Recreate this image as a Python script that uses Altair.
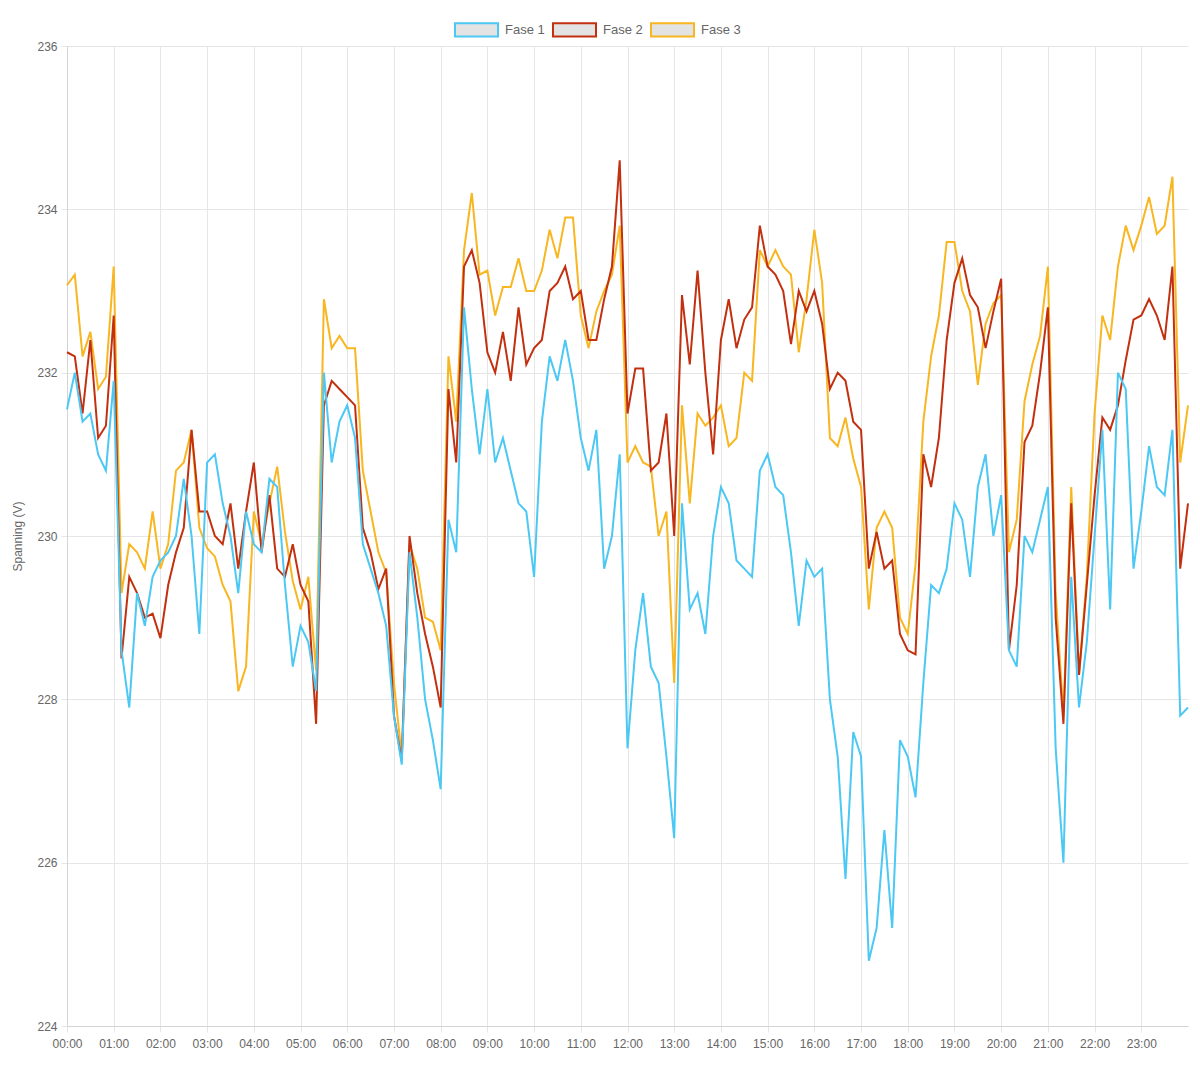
import altair as alt
import pandas as pd

series_names = ["Fase 1", "Fase 2", "Fase 3"]
series_colors = ["#4cc8f4", "#c2300f", "#f8b620"]
hour_ticks = list(range(24))
y_ticks = [224, 226, 228, 230, 232, 234, 236]
times = [i / 6 for i in range(145)]  # one reading every 10 minutes, 00:00 .. 24:00

fase1 = [
    231.55, 232.0, 231.4, 231.5, 231.0, 230.8,
    231.9, 228.6, 227.9, 229.3, 228.9, 229.5,
    229.7, 229.8, 230.0, 230.7, 230.0, 228.8,
    230.9, 231.0, 230.4, 230.0, 229.3, 230.3,
    229.9, 229.8, 230.7, 230.6, 229.4, 228.4,
    228.9, 228.7, 228.1, 232.0, 230.9, 231.4,
    231.6, 231.2, 229.9, 229.6, 229.3, 228.9,
    227.8, 227.2, 229.8, 229.0, 228.0, 227.5,
    226.9, 230.2, 229.8, 232.8, 231.8, 231.0,
    231.8, 230.9, 231.2, 230.8, 230.4, 230.3,
    229.5, 231.4, 232.2, 231.9, 232.4, 231.9,
    231.2, 230.8, 231.3, 229.6, 230.0, 231.0,
    227.4, 228.6, 229.3, 228.4, 228.2, 227.3,
    226.3, 230.4, 229.1, 229.3, 228.8, 230.0,
    230.6, 230.4, 229.7, 229.6, 229.5, 230.8,
    231.0, 230.6, 230.5, 229.8, 228.9, 229.7,
    229.5, 229.6, 228.0, 227.3, 225.8, 227.6,
    227.3, 224.8, 225.2, 226.4, 225.2, 227.5,
    227.3, 226.8, 228.2, 229.4, 229.3, 229.6,
    230.4, 230.2, 229.5, 230.6, 231.0, 230.0,
    230.5, 228.6, 228.4, 230.0, 229.8, 230.2,
    230.6, 227.4, 226.0, 229.5, 227.9, 228.7,
    230.0, 231.3, 229.1, 232.0, 231.8, 229.6,
    230.3, 231.1, 230.6, 230.5, 231.3, 227.8,
    227.9,
]

fase2 = [
    232.25, 232.2, 231.5, 232.4, 231.2, 231.35,
    232.7, 228.5, 229.5, 229.3, 229.0, 229.05,
    228.75, 229.4, 229.8, 230.1, 231.3, 230.3,
    230.3, 230.0, 229.9, 230.4, 229.6, 230.3,
    230.9, 229.8, 230.5, 229.6, 229.5, 229.9,
    229.4, 229.2, 227.7, 231.6, 231.9, 231.8,
    231.7, 231.6, 230.1, 229.8, 229.35, 229.6,
    227.8, 227.25, 230.0, 229.3, 228.8, 228.4,
    227.9, 231.8, 230.9, 233.3, 233.5, 233.1,
    232.25, 232.0, 232.5, 231.9, 232.8, 232.1,
    232.3, 232.4, 233.0, 233.1, 233.3, 232.9,
    233.0, 232.4, 232.4, 232.9, 233.3, 234.6,
    231.5, 232.05, 232.05, 230.8, 230.9, 231.5,
    230.0, 232.95, 232.1, 233.25, 232.0, 231.0,
    232.4, 232.9, 232.3, 232.65, 232.8, 233.8,
    233.3, 233.2, 233.0, 232.35, 233.0, 232.75,
    233.0, 232.6, 231.8, 232.0, 231.9, 231.4,
    231.3, 229.6, 230.05, 229.6, 229.7, 228.8,
    228.6, 228.55, 231.0, 230.6, 231.2, 232.4,
    233.1, 233.4, 232.95, 232.8, 232.3, 232.75,
    233.15, 228.6, 229.4, 231.15, 231.35, 232.0,
    232.8, 229.0, 227.7, 230.4, 228.3, 229.4,
    230.5, 231.45, 231.3, 231.6, 232.15, 232.65,
    232.7, 232.9, 232.7, 232.4, 233.3, 229.6,
    230.4,
]

fase3 = [
    233.07, 233.2, 232.2, 232.5, 231.8, 231.95,
    233.3, 229.3, 229.9, 229.8, 229.6, 230.3,
    229.6, 229.9, 230.8, 230.9, 231.3, 230.1,
    229.85, 229.75, 229.4, 229.2, 228.1, 228.4,
    230.3, 229.9, 230.4, 230.85, 230.05, 229.45,
    229.1, 229.5, 228.35, 232.9, 232.3, 232.45,
    232.3, 232.3, 230.8, 230.3, 229.8, 229.55,
    228.2, 227.3, 229.9, 229.6, 229.0, 228.95,
    228.6, 232.2, 231.4, 233.5, 234.2, 233.2,
    233.25, 232.7, 233.05, 233.05, 233.4, 233.0,
    233.0, 233.25, 233.75, 233.4, 233.9, 233.9,
    232.7, 232.3, 232.75, 233.0, 233.2, 233.8,
    230.9, 231.1, 230.9, 230.85, 230.0, 230.3,
    228.2, 231.6, 230.4, 231.5, 231.35, 231.45,
    231.6, 231.1, 231.2, 232.0, 231.9, 233.5,
    233.3, 233.5, 233.3, 233.2, 232.25, 232.9,
    233.75, 233.1, 231.2, 231.1, 231.45, 230.95,
    230.6, 229.1, 230.1, 230.3, 230.1, 229.0,
    228.8, 229.65, 231.4, 232.2, 232.7, 233.6,
    233.6, 233.0, 232.75, 231.85, 232.6, 232.85,
    232.95, 229.8, 230.2, 231.65, 232.1, 232.45,
    233.3, 229.3, 227.8, 230.6, 228.3, 229.5,
    231.5, 232.7, 232.4, 233.3, 233.8, 233.5,
    233.8, 234.15, 233.7, 233.8, 234.4, 230.9,
    231.6,
]

rows = []
for name, vals in zip(series_names, [fase1, fase2, fase3]):
    for t, v in zip(times, vals):
        rows.append({"uur": t, "spanning": v, "fase": name})
df = pd.DataFrame(rows)

FONT = "Liberation Sans"
GRID = "#e6e6e6"
TEXT = "#666666"

color = alt.Color(
    "fase:N",
    scale=alt.Scale(domain=series_names, range=series_colors),
    legend=alt.Legend(
        title=None,
        orient="none",
        legendX=387,
        legendY=-39,
        direction="horizontal",
        symbolType="M-1,-0.31H1V0.31H-1Z",
        symbolSize=1849,
        symbolStrokeWidth=2,
        symbolFillColor="#e3e3e3",
        labelFont=FONT,
        labelFontSize=13,
        labelColor=TEXT,
        labelOffset=6,
        columnPadding=4,
        padding=0,
    ),
)

x = alt.X(
    "uur:Q",
    scale=alt.Scale(domain=[0, 24], nice=False, zero=False),
    axis=alt.Axis(
        values=hour_ticks,
        labelExpr="(datum.value < 10 ? '0' : '') + datum.value + ':00'",
        title=None,
        grid=True,
        gridColor=GRID,
        domainColor="#d4d4d4",
        tickColor=GRID,
        tickSize=6,
        labelPadding=6,
        labelFont=FONT,
        labelFontSize=12,
        labelColor=TEXT,
        labelFlush=False,
        labelOverlap=False,
    ),
)

y = alt.Y(
    "spanning:Q",
    scale=alt.Scale(domain=[224, 236], nice=False, zero=False),
    axis=alt.Axis(
        values=y_ticks,
        title="Spanning (V)",
        titleFont=FONT,
        titleFontSize=12,
        titleFontWeight="normal",
        titleColor=TEXT,
        titlePadding=12,
        grid=True,
        gridColor=GRID,
        domainColor="#d4d4d4",
        tickColor=GRID,
        tickSize=6,
        labelPadding=4,
        labelFont=FONT,
        labelFontSize=12,
        labelColor=TEXT,
    ),
)

layers = [
    alt.Chart(df)
    .transform_filter(alt.datum.fase == name)
    .mark_line(strokeWidth=2, interpolate="linear")
    .encode(x=x, y=y, color=color)
    for name in reversed(series_names)
]

chart = (
    alt.layer(*layers)
    .properties(
        width=1121,
        height=980,
        autosize="none",
        padding={"left": 59, "top": 38, "right": 4, "bottom": 40},
        background="white",
    )
    .configure_view(stroke=None)
)

chart.save("out.html", embed_options={"renderer": "svg", "actions": False})
